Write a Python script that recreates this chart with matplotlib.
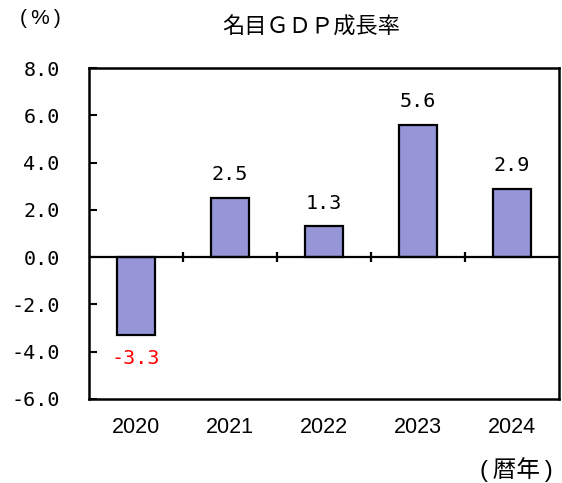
import numpy as np
import matplotlib
matplotlib.use("Agg")
import matplotlib.pyplot as plt

plt.rcParams["font.family"] = ["Noto Sans CJK JP", "DejaVu Sans"]

years = ["2020", "2021", "2022", "2023", "2024"]
growth = [-3.3, 2.5, 1.3, 5.6, 2.9]
y_ticks = [-6.0, -4.0, -2.0, 0.0, 2.0, 4.0, 6.0, 8.0]

fig = plt.figure(figsize=(5.62, 4.83), dpi=100)
ax = fig.add_axes([89 / 562, 1 - 399 / 483, 470 / 562, 331 / 483])

x = np.arange(len(years))
ax.bar(x, growth, width=0.41, color="#9595d8", edgecolor="black", linewidth=1.6, zorder=3)

ax.set_xlim(-0.5, len(years) - 0.5)
ax.set_ylim(-6, 8)

# zero line with small crossing ticks between categories
ax.axhline(0, color="black", linewidth=1.6, zorder=4)
bounds = x[:-1] + 0.5
ax.vlines(bounds, -0.22, 0.22, color="black", linewidth=1.6, zorder=4)

for xi, v in zip(x, growth):
    if v >= 0:
        ax.annotate(f"{v:.1f}", (xi, v), xytext=(0, 10), textcoords="offset points",
                    ha="center", va="bottom", fontsize=14.5, family="DejaVu Sans Mono")
    else:
        ax.annotate(f"{v:.1f}", (xi, v), xytext=(0, -10), textcoords="offset points",
                    ha="center", va="top", fontsize=14.5, color="red", family="DejaVu Sans Mono")

ax.set_yticks(y_ticks)
ax.set_yticklabels([f"{t:.1f}" for t in y_ticks], family="DejaVu Sans Mono", fontsize=14.5)
ax.tick_params(axis="y", direction="in", length=6, width=1.5, pad=21)
ax.set_xticks(x)
ax.set_xticklabels(years, family="Liberation Sans", fontsize=15.5)
ax.tick_params(axis="x", length=0, pad=13)

for s in ax.spines.values():
    s.set_linewidth(1.8)

fig.text(311 / 562, 1 - 27 / 483, "名目ＧＤＰ成長率", ha="center", va="center", fontsize=16)
fig.text(40 / 562, 1 - 18 / 483, "(\u2009%\u2009)", ha="center", va="center", fontsize=15,
         family=["Liberation Sans", "DejaVu Sans"])
fig.text(516 / 562, 1 - 470 / 483, "(\u2009暦年\u2009)", ha="center", va="center", fontsize=17,
         family=["Liberation Sans", "Noto Sans CJK JP", "DejaVu Sans"])

fig.savefig("out.png", dpi=100)
